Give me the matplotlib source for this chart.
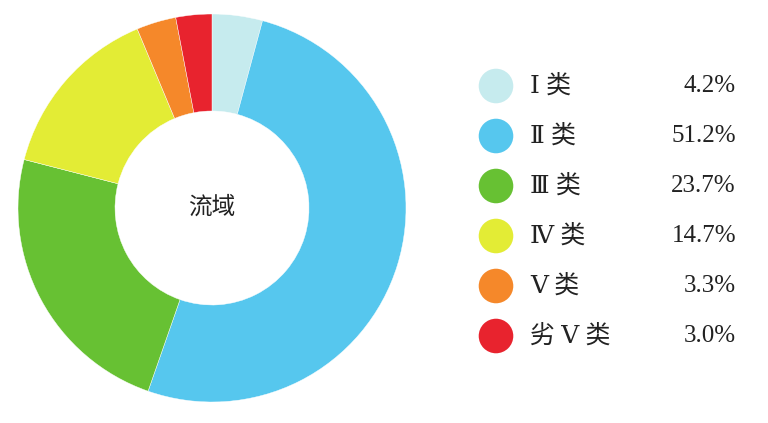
import matplotlib
matplotlib.use("Agg")
import matplotlib.pyplot as plt

# water quality class shares (%), clockwise from 12 o'clock
labels = ["Ⅰ 类", "Ⅱ 类", "Ⅲ 类", "Ⅳ 类", "Ⅴ 类", "劣 Ⅴ 类"]
shares = [4.2, 51.2, 23.7, 14.7, 3.3, 3.0]
colors = ["#c6ebee", "#56c7ee", "#67c133", "#e3ec35", "#f5882a", "#e8232e"]
center_label = "流域"

W, H = 768, 423
fig = plt.figure(figsize=(W / 100, H / 100), dpi=100)
fig.patch.set_facecolor("white")
ax = fig.add_axes([0, 0, 1, 1])

cx, cy, R = 212, H - 208, 194
ax.pie(shares, colors=colors, startangle=90, counterclock=False,
       center=(cx, cy), radius=R,
       wedgeprops=dict(width=R * 0.5, edgecolor="white", linewidth=0.3))
ax.text(cx, cy + 1, center_label, ha="center", va="center", fontsize=17,
        family=["Noto Sans CJK SC", "DejaVu Sans"], color="#222222")

serif = ["Liberation Serif", "DejaVu Serif", "Noto Sans CJK SC"]
y0, dy = H - 86, 50
for i, (lab, val, col) in enumerate(zip(labels, shares, colors)):
    y = y0 - i * dy
    ax.scatter([496], [y], s=620, color=col, edgecolors="none", zorder=3)
    ax.text(530, y, lab, ha="left", va="center", fontsize=18,
            family=serif, color="#222222")
    ax.text(736, y, f"{val:.1f}%", ha="right", va="center", fontsize=18,
            family=serif, color="#222222")

ax.set_xlim(0, W)
ax.set_ylim(0, H)
ax.set_aspect("auto")
ax.axis("off")

fig.savefig("out.png", dpi=100, facecolor="white")
